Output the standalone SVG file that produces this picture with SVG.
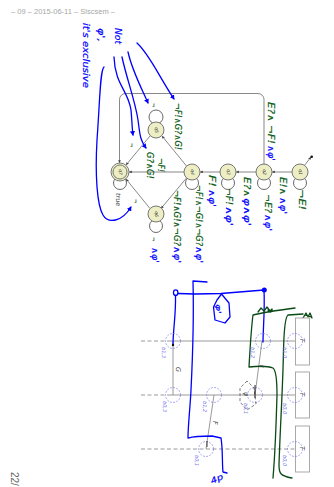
<svg xmlns="http://www.w3.org/2000/svg" width="334" height="487" viewBox="0 0 334 487">
<style>
text{font-family:"DejaVu Sans","Liberation Sans",sans-serif}
.hdr{font-size:7.2px;fill:#a6a6a6;font-family:"Liberation Sans",sans-serif}
.st{fill:#eeeec4;stroke:#777;stroke-width:1}
.loop{fill:#fff;stroke:#444;stroke-width:.8}
.q{font-size:4.5px;font-style:italic;fill:#333;text-anchor:middle}
.e{fill:none;stroke:#555;stroke-width:.7;marker-end:url(#a)}
.g{fill:#0a5a14;stroke:#0a5a14;stroke-width:.2;font-size:8.500px;font-style:italic}
.b{fill:#0000ff;stroke:#0000ff;stroke-width:.2;font-size:8.500px;font-style:italic}
.hb{fill:none;stroke:#0000ff;stroke-width:1.3;stroke-linecap:round;stroke-linejoin:round}
.hg{fill:none;stroke:#0a4a14;stroke-width:1.300;stroke-linecap:round;stroke-linejoin:round}
.c{fill:none;stroke:#7070e8;stroke-width:.6;stroke-dasharray:2 1.2}
.ln{fill:none;stroke:#808080;stroke-width:.8}
.ds{fill:none;stroke:#808080;stroke-width:.8;stroke-dasharray:4 2.5}
.box{fill:#fff;stroke:#a0a0a0;stroke-width:.9}
.sm{font-size:5px;fill:#7070e8;font-style:italic}
.lb{font-size:6.500px;fill:#444;font-style:italic}
</style>
<defs>
<marker id="a" markerWidth="5" markerHeight="5" refX="4" refY="2" orient="auto"><path d="M0 0L4 2L0 4z" fill="#444"/></marker>
<marker id="bb" markerWidth="4" markerHeight="4" refX="3" refY="2" orient="auto"><path d="M0 0L3.500 2L0 4z" fill="#0000ff"/></marker>
</defs>
<text class="hdr" x="11" y="13.500" textLength="104" lengthAdjust="spacingAndGlyphs">– 09 – 2015-06-11 – Slscsem –</text>
<text transform="translate(11,472) rotate(90)" style="font-size:10px;fill:#666;font-family:'Liberation Sans',sans-serif">22/</text>

<g id="connectors">
<path class="e" d="M264 165V99.500a6 6 0 0 0-6-6H125.500a6 6 0 0 0-6 6V163"/>
<path class="e" d="M293 172H272"/><path class="e" d="M257 172H236"/><path class="e" d="M221 172H200"/>
<path class="e" d="M184 172H129"/><path class="e" d="M186.500 166L162 136"/><path class="e" d="M186.500 178L161 208.500"/>
<path class="e" d="M150 136L126 165"/><path class="e" d="M150 208.500L126 179"/>
<path class="e" d="M304 166L311 157"/><circle cx="311.700" cy="156.700" r="1.300" fill="#111"/>
<path class="ln" d="M173 341V395M214 395L206 449M262 341L255 395"/>
<path class="ln" d="M170 341H295M170 395H295"/>
<path class="ds" d="M141 341H170M141 395H170M141 449H295"/>
</g>

<g id="q7"><circle class="loop" cx="120" cy="183" r="6.500"/><circle class="st" cx="120" cy="172" r="9"/><circle class="st" cx="120" cy="172" r="7"/><text class="q" transform="translate(118.500,172) rotate(90)">q7</text></g>
<g id="q5"><circle class="loop" cx="156" cy="117" r="7"/><circle class="st" cx="156" cy="130" r="8"/><text class="q" transform="translate(154.500,130) rotate(90)">q5</text></g>
<g id="q6"><circle class="loop" cx="156" cy="226" r="6.500"/><circle class="st" cx="156" cy="214" r="8"/><text class="q" transform="translate(154.500,214) rotate(90)">q6</text></g>
<g id="q4"><circle class="loop" cx="192" cy="183" r="6.500"/><circle class="st" cx="192" cy="172" r="8"/><text class="q" transform="translate(190.500,172) rotate(90)">q4</text></g>
<g id="q3"><circle class="loop" cx="228" cy="183" r="6.500"/><circle class="st" cx="228" cy="172" r="8"/><text class="q" transform="translate(226.500,172) rotate(90)">q3</text></g>
<g id="q2"><circle class="loop" cx="264" cy="183" r="6.500"/><circle class="st" cx="264" cy="172" r="8"/><text class="q" transform="translate(262.500,172) rotate(90)">q2</text></g>
<g id="q1"><circle class="loop" cx="300" cy="183" r="6.500"/><circle class="st" cx="300" cy="172" r="8"/><text class="q" transform="translate(298.500,172) rotate(90)">q1</text></g>

<g id="labels">
<text transform="translate(116,193) rotate(90)" class="lb">true</text>
<text class="g" transform="translate(175,103) rotate(90)" textLength="47" lengthAdjust="spacingAndGlyphs">¬F!∧G?∧G!</text>
<text class="g" transform="translate(268,102) rotate(90)" textLength="42" lengthAdjust="spacingAndGlyphs">E?∧ ¬F!</text>
<text class="b" transform="translate(268,145) rotate(90)" textLength="16" lengthAdjust="spacingAndGlyphs">∧φ'</text>
<text class="g" transform="translate(158,158) rotate(90)" textLength="14" lengthAdjust="spacingAndGlyphs">¬F!</text>
<text class="g" transform="translate(147,152) rotate(90)" textLength="27" lengthAdjust="spacingAndGlyphs">G?∧G!</text>
<text class="g" transform="translate(280,177) rotate(90)" textLength="18" lengthAdjust="spacingAndGlyphs">E!∧</text>
<text class="b" transform="translate(280,197) rotate(90)" textLength="17" lengthAdjust="spacingAndGlyphs">∧φ'</text>
<text class="g" transform="translate(265,194) rotate(90)" textLength="19" lengthAdjust="spacingAndGlyphs">¬E?</text>
<text class="b" transform="translate(265,214) rotate(90)" textLength="17" lengthAdjust="spacingAndGlyphs">∧φ'</text>
<text class="g" transform="translate(299,189) rotate(90)" textLength="21" lengthAdjust="spacingAndGlyphs">¬E!</text>
<text class="g" transform="translate(244,177) rotate(90)" textLength="20" lengthAdjust="spacingAndGlyphs">E?∧</text>
<text class="b" transform="translate(244,198) rotate(90)" textLength="28" lengthAdjust="spacingAndGlyphs">φ∧φ'</text>
<text class="g" transform="translate(226,188) rotate(90)" textLength="17" lengthAdjust="spacingAndGlyphs">¬F!</text>
<text class="b" transform="translate(226,206) rotate(90)" textLength="20" lengthAdjust="spacingAndGlyphs">∧φ'</text>
<text class="g" transform="translate(209,175) rotate(90)" textLength="12" lengthAdjust="spacingAndGlyphs">F!</text>
<text class="b" transform="translate(209,189) rotate(90)" textLength="18" lengthAdjust="spacingAndGlyphs">∧φ'</text>
<text class="g" transform="translate(196,185) rotate(90)" textLength="61" lengthAdjust="spacingAndGlyphs">¬F!∧¬G!∧¬G?</text>
<text class="b" transform="translate(196,246) rotate(90)" textLength="17" lengthAdjust="spacingAndGlyphs">∧φ'</text>
<text class="g" transform="translate(174,190) rotate(90)" textLength="56" lengthAdjust="spacingAndGlyphs">¬F!∧G!∧¬G?</text>
<text class="b" transform="translate(174,246) rotate(90)" textLength="17" lengthAdjust="spacingAndGlyphs">∧φ'</text>
<text class="g" transform="translate(152,237) rotate(90)" style="font-size:5px">¬</text>
<text class="b" transform="translate(152,247) rotate(90)" textLength="16" lengthAdjust="spacingAndGlyphs">∧φ'</text>
<text class="g" transform="translate(152,103) rotate(90)" style="font-size:5px">¬</text>
<text class="g" transform="translate(130,143) rotate(90)" style="font-size:5px">¬</text>
<text class="g" transform="translate(134,199) rotate(90)" style="font-size:5px">¬</text>
<text class="b" transform="translate(115,28) rotate(90)" textLength="16" lengthAdjust="spacingAndGlyphs">Not</text>
<text class="b" transform="translate(98,28) rotate(90)" textLength="14" lengthAdjust="spacingAndGlyphs">φ',</text>
<text class="b" transform="translate(83,23) rotate(90)" textLength="65" lengthAdjust="spacingAndGlyphs">it's exclusive</text>
</g>

<g id="annotations-blue">
<path class="hb" marker-end="url(#bb)" d="M137 43C150 55 158 75 174 99"/>
<path class="hb" marker-end="url(#bb)" d="M128 52C132 70 140 85 148 103"/>
<path class="hb" marker-end="url(#bb)" d="M122 57C127 80 135 100 138 120C140 135 140 140 146 148"/>
<path class="hb" marker-end="url(#bb)" d="M114 57C115 85 128 90 131 110C132 120 132 128 133 135"/>
<path class="hb" marker-end="url(#bb)" d="M104 67C100 70 100 100 97 140C95 175 97 205 103 215C108 224 122 222 131 207"/>
<path class="hb" d="M193 281L207 282M193 281C194 320 192 370 191 390C190 410 188 425 188 438C195 436 205 436 212 436L221 438C223 450 222 465 223 472L227 473"/>
<ellipse class="hb" cx="175.700" cy="292.700" rx="2.200" ry="2.800" fill="#fff"/>
<path class="hb" d="M178 293.500L195 294L221 293.500L264 290M175.500 295.500C176 315 173 330 173 345M264 290C265 310 263 330 263 342"/>
<circle cx="264.300" cy="290" r="2.500" fill="#0000ff"/>
<path class="hb" d="M221.500 294L229 303L230 317L225 323L215 320L213.500 307L217 300Z"/>
<text class="b" transform="translate(216,304) rotate(90)" style="font-size:7px" textLength="10" lengthAdjust="spacingAndGlyphs">φ'</text>
<text class="b" transform="translate(212,484) rotate(-25)" style="font-size:8px" textLength="13" lengthAdjust="spacingAndGlyphs">4p</text>
</g>

<g id="annotations-green">
<path class="hg" d="M295 308C280 310 265 312 253 315C251 330 250 350 249 367C258 366 268 366 273 368C277 371 277 385 277 395C276 430 275 455 273 478"/>
<path class="hg" d="M303 314L288 315C285 317 284 330 283.500 350C283 385 280 430 279 465C279 473 280 476 292 478"/>
<path class="hg" d="M258 312L261 308L264 311L267 307L270 311L272 309C273 312 269 313 268 310"/>
<path class="hg" d="M303 318L306 313L308 317L310 313L312 318M305 315L311 317"/>
</g>

<g id="diagram">
<rect class="box" x="295.500" y="318" width="14" height="47"/>
<rect class="box" x="295.500" y="372" width="14" height="46"/>
<rect class="box" x="295.500" y="426" width="14" height="46"/>
<circle class="c" cx="173" cy="341" r="7.500"/><circle class="c" cx="263" cy="341" r="7.500"/><circle class="c" cx="295" cy="341" r="7.500"/>
<circle class="c" cx="173" cy="395" r="7.500"/><circle class="c" cx="214" cy="395" r="7.500"/><circle class="c" cx="255" cy="395" r="7.500"/><circle class="c" cx="295" cy="395" r="7.500"/>
<circle class="c" cx="206" cy="449" r="7.500"/><circle class="c" cx="295" cy="449" r="7.500"/>
<path d="M247 381L240 388V402L247 410L256 404L254 388Z" fill="none" stroke="#555" stroke-width=".8" stroke-dasharray="3 2"/>
<circle cx="173" cy="345" r="1.200" fill="#111"/>
<path d="M255 385V398" stroke="#222" stroke-width="1"/>
<path d="M207 441V447" stroke="#444" stroke-width="1"/>
<text class="lb" transform="translate(176,367) rotate(90)">G</text>
<text class="lb" transform="translate(213,421) rotate(90)">F</text>
<text class="lb" transform="translate(260,365) rotate(90)" style="font-size:5px">E</text>
<text class="lb" transform="translate(244,392) rotate(90)">φ</text>
<text class="lb" transform="translate(300,338) rotate(90)">T</text>
<text class="lb" transform="translate(300,392) rotate(90)">T</text>
<text class="lb" transform="translate(300,446) rotate(90)">T</text>
<text class="sm" transform="translate(162,347) rotate(90)">b1,3</text>
<text class="sm" transform="translate(251,347) rotate(90)">b1,2</text>
<text class="sm" transform="translate(283,347) rotate(90)">b1,0</text>
<text class="sm" transform="translate(163,401) rotate(90)">b0,3</text>
<text class="sm" transform="translate(203,401) rotate(90)">b1,2</text>
<text class="sm" transform="translate(244,403) rotate(90)">b0,1</text>
<text class="sm" transform="translate(283,403) rotate(90)">b0,0</text>
<text class="sm" transform="translate(195,455) rotate(90)">b0,1</text>
<text class="sm" transform="translate(283,455) rotate(90)">b0,0</text>
</g>
</svg>
